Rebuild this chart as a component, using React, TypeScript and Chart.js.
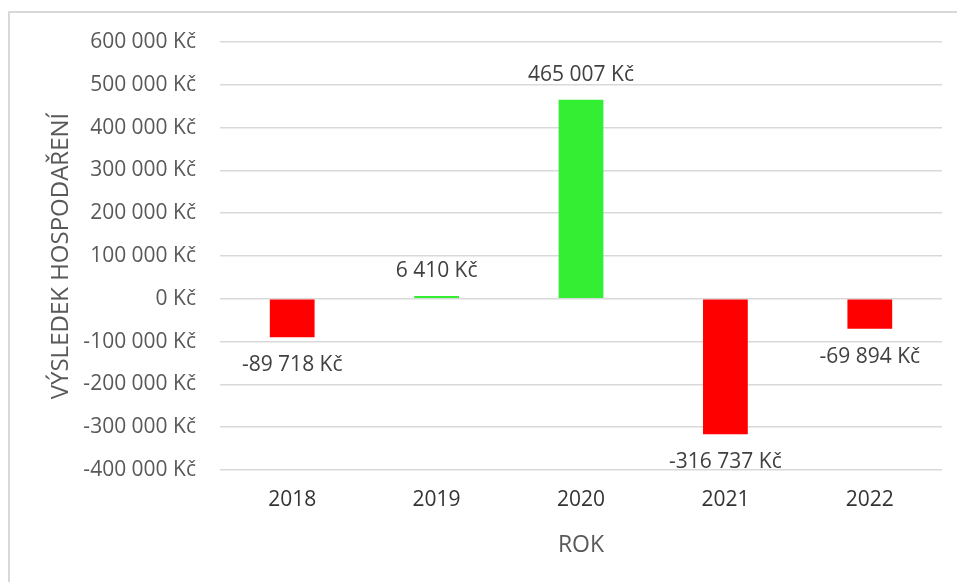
import React, { useEffect, useRef } from "react";
import { Chart, registerables } from "chart.js";

Chart.register(...registerables);

const years = ["2018", "2019", "2020", "2021", "2022"];
const results = [-89718, 6410, 465007, -316737, -69894];
const yMin = -400000;
const yMax = 600000;
const yStep = 100000;
const yTitle = "VÝSLEDEK HOSPODAŘENÍ";
const xTitle = "ROK";

const FONT = "'Open Sans', sans-serif";

function fmt(v: number): string {
  const s = Math.abs(Math.round(v)).toString().replace(/\B(?=(\d{3})+(?!\d))/g, " ");
  return (v < 0 ? "-" : "") + s + " Kč";
}

const labelPlugin = {
  id: "valueLabels",
  afterDatasetsDraw(chart: any) {
    const ctx = chart.ctx;
    const meta = chart.getDatasetMeta(0);
    ctx.save();
    ctx.font = `21px ${FONT}`;
    ctx.fillStyle = "#404040";
    ctx.textAlign = "center";
    ctx.textBaseline = "middle";
    meta.data.forEach((el: any, i: number) => {
      const v = results[i];
      const y = v >= 0 ? el.y - 25 : el.y + 28;
      ctx.fillText(fmt(v), el.x, y);
    });
    ctx.restore();
  },
};

export default function App() {
  const ref = useRef<HTMLCanvasElement>(null);
  useEffect(() => {
    if (!ref.current) return;
    const chart = new Chart(ref.current, {
      type: "bar",
      data: {
        labels: years,
        datasets: [
          {
            data: results,
            backgroundColor: results.map((v) => (v >= 0 ? "#33EE33" : "#FF0000")),
            borderWidth: 0,
            barPercentage: 0.31,
            categoryPercentage: 1,
          },
        ],
      },
      options: {
        responsive: false,
        animation: false,
        devicePixelRatio: 1,
        layout: { padding: { left: 0, right: 15, top: 42, bottom: 0 } },
        plugins: { legend: { display: false }, tooltip: { enabled: false } },
        scales: {
          x: {
            grid: { display: false, drawTicks: false },
            border: { display: false },
            ticks: { color: "#333333", font: { family: FONT, size: 21 }, padding: 17 },
            title: {
              display: true,
              text: xTitle,
              color: "#595959",
              font: { family: FONT, size: 23 },
              padding: { top: 0, bottom: 23 },
            },
            afterFit(scale: any) {
              scale.height = 112;
            },
          },
          y: {
            min: yMin,
            max: yMax,
            grid: { color: "#d9d9d9", lineWidth: 1.5, drawTicks: false },
            border: { display: false },
            ticks: {
              stepSize: yStep,
              color: "#595959",
              font: { family: FONT, size: 21 },
              padding: 24,
              callback: (v: any) => fmt(Number(v)),
            },
            title: {
              display: true,
              text: yTitle,
              color: "#595959",
              font: { family: FONT, size: 24 },
              padding: { top: 47, bottom: 0 },
            },
            afterFit(scale: any) {
              scale.width = 220;
            },
          },
        },
      },
      plugins: [labelPlugin],
    });
    return () => chart.destroy();
  }, []);
  return (
    <div style={{ position: "fixed", left: 0, top: 0, width: 957, height: 582, overflow: "hidden", background: "#fff" }}>
      <div
        style={{
          position: "absolute",
          left: 8,
          top: 11,
          width: 1000,
          height: 1000,
          border: "2px solid #d9d9d9",
        }}
      />
      <canvas ref={ref} width={957} height={582} style={{ position: "absolute", left: 0, top: 0, display: "block" }} />
    </div>
  );
}
